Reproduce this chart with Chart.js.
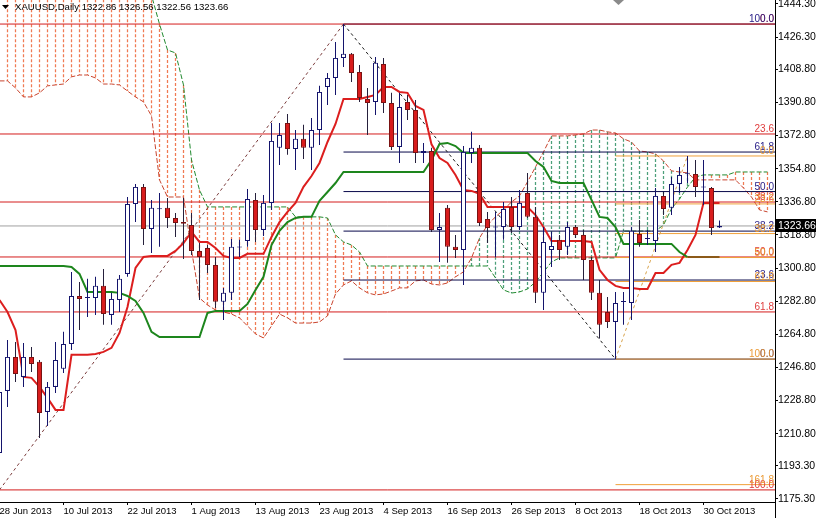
<!DOCTYPE html>
<html>
<head>
<meta charset="utf-8">
<script src="https://cdn.jsdelivr.net/npm/chart.js@4.4.1/dist/chart.umd.min.js"></script>
<style>
  html, body { margin: 0; padding: 0; background: #fff; overflow: hidden; }
  #wrap { position: relative; width: 816px; height: 518px; }
</style>
</head>
<body>
<div id="wrap"><canvas id="chart"></canvas></div>
<script>
// XAUUSD daily, bar 0 = 28 Jun 2013 ... bar 90 = 1 Nov 2013
const symbolTitle = 'XAUUSD,Daily';
const dateTickIdx = [0, 8, 16, 24, 32, 40, 48, 56, 64, 72, 80, 88];
const dateLabels = ['28 Jun 2013', '10 Jul 2013', '22 Jul 2013', '1 Aug 2013', '13 Aug 2013', '23 Aug 2013',
  '4 Sep 2013', '16 Sep 2013', '26 Sep 2013', '8 Oct 2013', '18 Oct 2013', '30 Oct 2013'];
const priceTicks = [1444.30, 1426.30, 1408.80, 1390.80, 1372.80, 1354.80, 1336.80, 1318.80,
  1300.80, 1282.80, 1264.80, 1246.80, 1228.80, 1210.80, 1193.30, 1175.30];

const open = [
  1200.3, 1234.0, 1252.5, 1241.6, 1252.5, 1249.8, 1222.6, 1236.2, 1246.0, 1259.5,
  1285.6, 1284.5, 1284.5, 1291.1, 1275.3, 1283.4, 1297.6, 1335.6, 1344.9, 1322.0,
  1332.8, 1333.5, 1328.0, 1325.8, 1324.2, 1310.1, 1311.7, 1302.5, 1282.4, 1287.3,
  1312.0, 1315.5, 1337.8, 1321.5, 1336.2, 1366.1, 1379.6, 1365.5, 1371.0, 1366.1,
  1375.8, 1399.2, 1404.1, 1415.0, 1417.2, 1407.4, 1392.7, 1391.1, 1411.7, 1390.5,
  1366.6, 1391.1, 1386.7, 1363.3, 1364.4, 1321.5, 1333.5, 1312.3, 1310.6, 1363.3,
  1366.1, 1327.5, 1322.8, 1323.1, 1334.0, 1323.1, 1341.6, 1328.6, 1287.3, 1310.6,
  1316.1, 1312.3, 1323.1, 1318.8, 1305.2, 1287.3, 1276.9, 1271.5, 1282.3, 1281.8,
  1319.3, 1316.6, 1315.5, 1340.0, 1333.5, 1346.5, 1352.0, 1351.9, 1344.6, 1344.3,
  1322.86];
const high = [
  1237.2, 1261.7, 1260.6, 1260.1, 1257.9, 1250.8, 1238.9, 1260.6, 1266.1, 1298.7,
  1293.2, 1294.9, 1296.0, 1300.3, 1287.3, 1297.0, 1339.4, 1346.5, 1346.5, 1337.8,
  1341.6, 1338.9, 1330.7, 1338.9, 1330.7, 1314.4, 1313.3, 1306.8, 1290.0, 1316.6,
  1316.1, 1343.8, 1341.6, 1340.5, 1379.6, 1379.6, 1384.5, 1375.8, 1378.6, 1382.4,
  1399.8, 1406.8, 1423.7, 1433.4, 1417.7, 1411.2, 1398.7, 1415.5, 1415.0, 1396.0,
  1396.0, 1394.9, 1392.1, 1368.8, 1366.1, 1330.7, 1335.1, 1318.8, 1367.1, 1374.8,
  1367.7, 1331.3, 1331.3, 1336.7, 1339.4, 1343.2, 1352.5, 1334.0, 1323.1, 1320.4,
  1318.8, 1325.8, 1324.2, 1321.5, 1306.8, 1294.3, 1285.1, 1287.8, 1287.8, 1323.1,
  1326.9, 1321.5, 1344.3, 1342.1, 1350.3, 1355.7, 1361.7, 1359.5, 1359.5, 1344.9,
  1326.56];
const low = [
  1180.2, 1225.3, 1238.9, 1236.2, 1244.3, 1208.4, 1215.0, 1232.9, 1243.8, 1256.3,
  1267.1, 1274.2, 1275.3, 1269.9, 1269.9, 1276.9, 1296.0, 1325.8, 1313.3, 1309.0,
  1312.3, 1322.6, 1317.7, 1305.7, 1307.9, 1283.4, 1298.1, 1279.1, 1272.6, 1283.4,
  1306.8, 1312.3, 1315.0, 1318.2, 1332.4, 1356.8, 1362.3, 1354.1, 1360.1, 1354.1,
  1367.7, 1389.4, 1394.9, 1410.1, 1401.9, 1391.1, 1373.1, 1384.0, 1385.1, 1365.0,
  1357.9, 1381.3, 1357.9, 1357.9, 1320.4, 1304.1, 1303.6, 1306.3, 1291.6, 1357.9,
  1323.7, 1314.4, 1306.8, 1316.1, 1319.9, 1321.5, 1328.0, 1281.8, 1278.0, 1301.4,
  1305.2, 1307.9, 1317.1, 1294.3, 1283.4, 1262.5, 1268.2, 1251.3, 1269.9, 1272.6,
  1312.3, 1313.3, 1309.5, 1329.6, 1329.6, 1341.6, 1347.0, 1339.4, 1335.1, 1318.8,
  1322.56];
const close = [
  1233.4, 1252.5, 1243.2, 1252.5, 1248.7, 1222.0, 1236.2, 1250.8, 1259.5, 1285.6,
  1284.0, 1284.8, 1291.1, 1275.8, 1284.0, 1294.9, 1335.6, 1344.9, 1322.0, 1333.5,
  1333.1, 1328.0, 1325.3, 1324.8, 1310.1, 1306.8, 1302.5, 1282.4, 1287.3, 1312.3,
  1312.4, 1338.3, 1321.5, 1336.2, 1369.9, 1373.1, 1365.5, 1371.0, 1366.1, 1375.8,
  1396.5, 1404.1, 1415.0, 1417.2, 1406.8, 1393.2, 1390.5, 1412.3, 1390.5, 1366.6,
  1388.3, 1386.7, 1363.3, 1364.4, 1321.5, 1323.1, 1312.3, 1310.6, 1363.9, 1366.1,
  1325.3, 1322.6, 1323.1, 1332.9, 1323.1, 1336.2, 1328.6, 1287.3, 1315.0, 1312.8,
  1310.6, 1323.1, 1318.8, 1305.2, 1287.3, 1269.9, 1271.5, 1281.8, 1282.6, 1321.0,
  1314.4, 1316.9, 1340.0, 1332.9, 1346.5, 1351.4, 1352.3, 1344.9, 1344.9, 1322.6,
  1323.66];

// Ichimoku
const tenkan = [
  1283.4, 1276.9, 1267.1, 1241.6, 1241.1, 1236.2, 1230.2, 1223.7, 1223.7, 1253.6,
  1253.6, 1253.6, 1254.1, 1255.2, 1257.4, 1265.5, 1279.6, 1300.8, 1306.8, 1307.4,
  1307.4, 1307.4, 1310.1, 1314.4, 1320.4, 1315.0, 1315.0, 1311.7, 1307.4, 1306.3,
  1306.3, 1308.5, 1308.5, 1308.5, 1317.7, 1325.8, 1331.3, 1336.2, 1344.9, 1350.8,
  1357.9, 1369.3, 1379.1, 1392.7, 1392.7, 1392.7, 1393.8, 1394.9, 1399.2, 1399.2,
  1396.5, 1396.0, 1388.9, 1386.7, 1368.0, 1360.6, 1357.9, 1351.4, 1343.2, 1342.7,
  1341.1, 1334.0, 1334.0, 1334.0, 1334.0, 1334.0, 1334.0, 1329.6, 1323.1, 1315.5,
  1315.5, 1315.5, 1315.5, 1315.5, 1315.0, 1299.8, 1294.3, 1291.1, 1290.0, 1290.0,
  1289.4, 1289.4, 1298.1, 1298.1, 1302.5, 1303.6, 1310.6, 1318.8, 1336.2, 1336.2,
  1336.2];
const kijun = [
  1301.9, 1301.9, 1301.9, 1301.9, 1301.9, 1301.9, 1301.9, 1301.9, 1301.9, 1301.4,
  1297.6, 1287.8, 1287.8, 1287.8, 1287.8, 1287.3, 1285.6, 1282.9, 1276.4, 1266.1,
  1263.3, 1263.3, 1263.3, 1263.3, 1263.3, 1263.3, 1276.4, 1277.5, 1277.5, 1277.5,
  1277.5, 1281.3, 1288.9, 1296.0, 1313.3, 1321.0, 1325.8, 1328.0, 1328.6, 1328.6,
  1337.3, 1342.1, 1347.0, 1353.0, 1353.0, 1353.0, 1353.0, 1353.0, 1353.0, 1353.0,
  1353.0, 1353.0, 1353.0, 1353.0, 1359.5, 1368.2, 1368.8, 1367.1, 1363.3, 1363.3,
  1363.3, 1363.3, 1363.3, 1363.3, 1363.3, 1363.3, 1363.3, 1359.0, 1355.7, 1348.1,
  1347.0, 1347.0, 1347.0, 1347.0, 1337.8, 1328.6, 1328.0, 1323.1, 1313.9, 1313.9,
  1313.9, 1313.9, 1313.9, 1313.9, 1313.9, 1309.5, 1306.8, 1306.8, 1306.8, 1306.8,
  1306.8];
const spanA = [
  1402.5, 1402.5, 1398.7, 1393.8, 1393.8, 1396.0, 1399.8, 1400.3, 1400.8, 1404.7,
  1405.7, 1405.7, 1404.1, 1400.8, 1400.8, 1400.3, 1397.0, 1393.8, 1391.1, 1383.5,
  1348.7, 1339.4, 1339.4, 1339.4, 1310.6, 1284.5, 1280.7, 1278.0, 1276.9, 1275.8,
  1273.7, 1269.3, 1265.0, 1262.8, 1269.3, 1275.8, 1273.7, 1270.9, 1270.9, 1270.9,
  1271.5, 1274.8, 1286.7, 1291.6, 1293.8, 1290.0, 1287.3, 1286.2, 1286.7, 1288.3,
  1290.0, 1290.0, 1293.8, 1294.3, 1292.1, 1291.6, 1292.7, 1296.0, 1298.7, 1306.3,
  1317.1, 1324.2, 1328.6, 1332.4, 1336.7, 1340.0, 1347.6, 1355.7, 1363.9, 1372.6,
  1372.6, 1372.6, 1373.1, 1373.7, 1375.8, 1375.8, 1374.8, 1374.2, 1371.0, 1369.3,
  1364.4, 1363.9, 1362.8, 1359.0, 1353.6, 1353.0, 1352.5, 1348.7, 1348.7, 1348.7,
  1348.7, 1348.7, 1348.7, 1344.3, 1339.4, 1332.4, 1331.3];
const spanB = [
  1455.0, 1455.0, 1455.0, 1455.0, 1455.0, 1455.0, 1455.0, 1455.0, 1455.0, 1455.0,
  1455.0, 1455.0, 1455.0, 1455.0, 1455.0, 1455.0, 1455.0, 1455.0, 1455.0, 1449.0,
  1433.4, 1419.3, 1417.7, 1400.3, 1359.5, 1343.2, 1334.0, 1334.0, 1334.0, 1334.0,
  1334.0, 1334.0, 1334.0, 1334.0, 1334.0, 1334.0, 1334.0, 1328.6, 1328.6, 1328.6,
  1328.6, 1328.0, 1318.8, 1315.0, 1313.3, 1309.5, 1301.9, 1301.9, 1301.9, 1301.9,
  1301.9, 1301.9, 1301.9, 1301.9, 1301.9, 1301.9, 1301.9, 1301.9, 1301.9, 1301.9,
  1301.9, 1301.9, 1295.4, 1288.9, 1287.2, 1287.8, 1289.4, 1293.2, 1298.6, 1304.1,
  1306.3, 1306.3, 1306.3, 1306.3, 1306.3, 1306.3, 1306.3, 1306.3, 1320.9, 1320.9,
  1320.9, 1320.9, 1320.9, 1324.2, 1333.0, 1338.3, 1344.8, 1350.3, 1351.4, 1351.4,
  1351.4, 1351.4, 1353.0, 1353.0, 1353.0, 1353.0, 1353.0];

// Fibonacci objects: [bar, price] of point 1 (level 100) and point 2 (level 0)
const fibRedPts = [[0, 1180.2], [43, 1433.4]];
const fibNavyPts = [[43, 1433.4], [77, 1251.3]];
const fibOrangePts = [[77, 1251.3], [86, 1361.7]];
const fibLevels = [0, 23.6, 38.2, 50, 61.8, 100];
const fibExtLevels = [0, 23.6, 38.2, 50, 61.8, 100, 161.8];
const bidPrice = 1323.66;

// ---- layout (pixels <-> scale bounds) ----
const xMin = 0.0625, xMax = 96.9375;
const yMin = 1173.63, yMax = 1446.47;
const FONT = 'Liberation Sans';

const BULL = '#14146c', BEAR_FILL = '#d81c1c', BEAR_EDGE = '#7a1212', BEAR_WICK = '#26203c';

const fibPrice = (pts, r) => pts[1][1] + r / 100 * (pts[0][1] - pts[1][1]);
const pt = (x, y) => ({ x, y });

function fibDatasets(pts, levels, lineColor, trendColor, order) {
  const start = Math.min(pts[0][0], pts[1][0]);
  const out = levels.map(r => ({
    type: 'line', data: [pt(start, fibPrice(pts, r)), pt(xMax + 1, fibPrice(pts, r))],
    borderColor: lineColor, borderWidth: 1, pointRadius: 0, order
  }));
  out.push({
    type: 'line', data: [pt(pts[0][0], pts[0][1]), pt(pts[1][0], pts[1][1])],
    borderColor: trendColor, borderWidth: 1, borderDash: [3, 3], pointRadius: 0, order: order - 0.5
  });
  return out;
}

// kumo hatch: one dotted vertical per bar between the two spans
function hatch(bearish, color) {
  const data = [];
  spanA.forEach((a, i) => {
    const b = spanB[i];
    if ((b > a) !== bearish) return;
    data.push(pt(i, Math.max(a, b)), pt(i, Math.min(a, b)), pt(i, null));
  });
  return { type: 'line', order: 100, data, borderColor: color, borderWidth: 1.25,
    borderDash: [3, 2], pointRadius: 0, spanGaps: false };
}

const bars = close.map((_, i) => i);
const bull = i => close[i] >= open[i];

const datasets = [
  hatch(true, '#f07a52'),
  hatch(false, '#4c9f7a'),
  { type: 'line', order: 90, data: spanA.map((v, i) => pt(i, v)), borderColor: '#c8442e',
    borderWidth: 1, borderDash: [5, 2], pointRadius: 0 },
  { type: 'line', order: 90, data: spanB.map((v, i) => pt(i, v)), borderColor: '#228a30',
    borderWidth: 1, borderDash: [5, 2], pointRadius: 0 },
  ...fibDatasets(fibNavyPts, fibLevels, '#08084a', '#1a1a1a', 80),
  ...fibDatasets(fibRedPts, fibLevels, '#d41c1c', '#7a3a3a', 79),
  ...fibDatasets(fibOrangePts, fibExtLevels, '#f0a03a', '#d8a24a', 78),
  { type: 'line', order: 77, data: [pt(xMin - 1, bidPrice), pt(xMax + 1, bidPrice)],
    borderColor: '#a0a0a0', borderWidth: 1, pointRadius: 0 },
  { type: 'line', order: 30, data: tenkan.map((v, i) => pt(i, v)), borderColor: '#dc1e1e',
    borderWidth: 2, pointRadius: 0 },
  { type: 'line', order: 29, data: kijun.map((v, i) => pt(i, v)), borderColor: '#1d861d',
    borderWidth: 2, pointRadius: 0,
    segment: { borderColor: c => c.p0DataIndex >= 86 ? '#8c5a18' : undefined } },
  { // wicks
    type: 'bar', order: 10, clip: 0, grouped: false, barThickness: 1, inflateAmount: 0,
    data: bars.map(i => ({ x: i, y: [low[i], high[i]] })),
    backgroundColor: bars.map(i => bull(i) ? BULL : BEAR_WICK), borderWidth: 0
  },
  { // bodies
    type: 'bar', order: 5, clip: 0, grouped: false, barThickness: 5, inflateAmount: 0, minBarLength: 1,
    data: bars.map(i => ({ x: i, y: [Math.min(open[i], close[i]), Math.max(open[i], close[i])] })),
    backgroundColor: bars.map(i => bull(i) ? '#ffffff' : BEAR_FILL),
    borderColor: bars.map(i => bull(i) ? BULL : BEAR_EDGE),
    borderWidth: 1, borderSkipped: false
  }
];

const overlay = {
  id: 'overlay',
  afterDatasetsDraw(chart) {
    const { ctx, chartArea, scales: { y } } = chart;
    ctx.save();
    ctx.font = '10px "' + FONT + '"';
    ctx.textAlign = 'right';
    ctx.textBaseline = 'alphabetic';
    const fibs = [[fibRedPts, fibLevels, '#e03c3c'], [fibNavyPts, fibLevels, '#2a2088'],
                  [fibOrangePts, fibExtLevels, '#eb9a34']];
    fibs.forEach(([pts, levels, color]) => {
      ctx.fillStyle = color;
      levels.forEach(r => {
        const py = y.getPixelForValue(fibPrice(pts, r));
        ctx.fillText(r.toFixed(1), chartArea.right - 1, py - 2);
      });
    });
    ctx.restore();
  },
  afterDraw(chart) {
    const { ctx, chartArea, scales: { y } } = chart;
    ctx.save();
    // axis line continues to the bottom edge
    ctx.strokeStyle = '#000';
    ctx.beginPath();
    ctx.moveTo(chartArea.right + 0.5, chartArea.bottom);
    ctx.lineTo(chartArea.right + 0.5, chart.height);
    ctx.stroke();
    // current price box
    const py = Math.round(y.getPixelForValue(bidPrice));
    ctx.fillStyle = '#000';
    ctx.fillRect(chartArea.right + 1, py - 7, chart.width - chartArea.right - 1, 13);
    ctx.fillStyle = '#fff';
    ctx.font = '10.5px "' + FONT + '"';
    ctx.textAlign = 'left';
    ctx.textBaseline = 'middle';
    ctx.fillText(bidPrice.toFixed(2), chartArea.right + 3, py);
    // title
    ctx.fillStyle = '#000';
    ctx.beginPath();
    ctx.moveTo(2, 5); ctx.lineTo(9, 5); ctx.lineTo(5.5, 9); ctx.closePath();
    ctx.fill();
    ctx.font = '9.6px "' + FONT + '"';
    const last = close.length - 1;
    const ohlc = [open[last], high[last], low[last], close[last]].map(v => v.toFixed(2)).join(' ');
    ctx.fillText(symbolTitle + ' ' + ohlc, 15, 7);
    // chart shift marker
    ctx.fillStyle = '#8a8a8a';
    ctx.beginPath();
    ctx.moveTo(613, 0); ctx.lineTo(624, 0); ctx.lineTo(618.5, 5); ctx.closePath();
    ctx.fill();
    ctx.restore();
  }
};

new Chart(document.getElementById('chart'), {
  type: 'bar',
  data: { datasets },
  plugins: [overlay],
  options: {
    responsive: true, maintainAspectRatio: false, devicePixelRatio: 1, animation: false,
    events: [],
    layout: { padding: 0 },
    plugins: { legend: { display: false }, tooltip: { enabled: false } },
    scales: {
      x: {
        type: 'linear', min: xMin, max: xMax, offset: false,
        afterBuildTicks: s => { s.ticks = dateTickIdx.map(v => ({ value: v })); },
        afterFit: s => { s.height = 16; s.paddingLeft = 0; s.paddingRight = 0; },
        ticks: { autoSkip: false, maxRotation: 0, minRotation: 0, align: 'start', padding: 1,
          color: '#000', font: { family: FONT, size: 9.5 }, callback: (v, i) => dateLabels[i] },
        grid: { drawOnChartArea: false, drawTicks: true, tickLength: 3, color: '#000', offset: false },
        border: { display: true, color: '#000', width: 1 }
      },
      y: {
        type: 'linear', position: 'right', min: yMin, max: yMax,
        afterBuildTicks: s => { s.ticks = priceTicks.map(v => ({ value: v })); },
        afterFit: s => { s.width = 41; s.paddingTop = 0; s.paddingBottom = 0; },
        ticks: { padding: 0, color: '#000', font: { family: FONT, size: 10.5 },
          callback: v => v.toFixed(2) },
        grid: { drawOnChartArea: false, drawTicks: true, tickLength: 3, color: '#000' },
        border: { display: true, color: '#000', width: 1 }
      }
    }
  }
});
</script>
</body>
</html>
